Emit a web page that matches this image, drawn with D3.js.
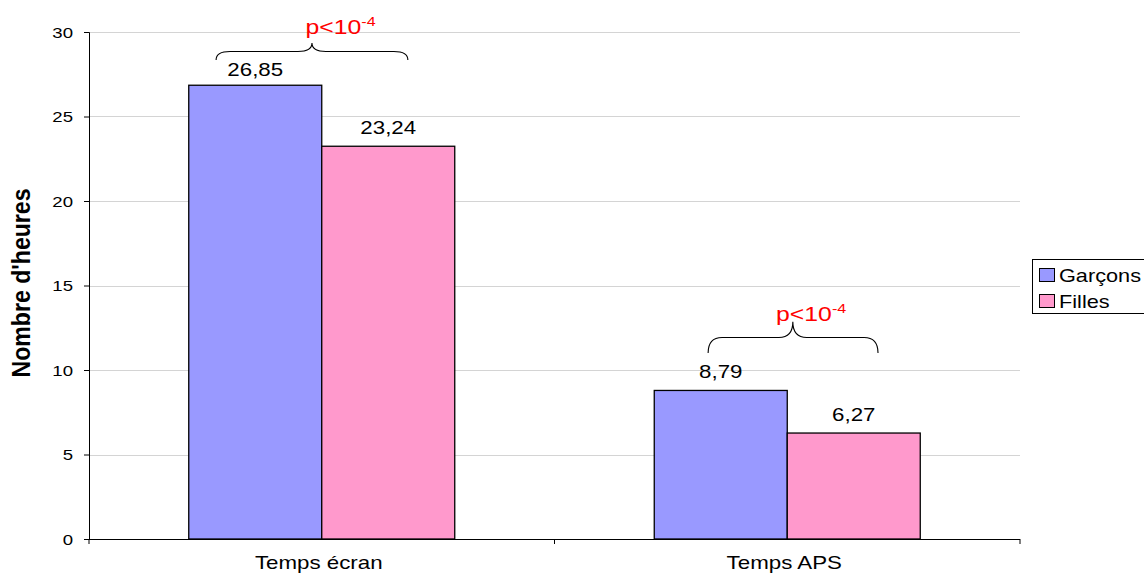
<!DOCTYPE html>
<html>
<head>
<meta charset="utf-8">
<script src="https://cdn.jsdelivr.net/npm/d3@7"></script>
<style>
  html, body { margin: 0; padding: 0; background: #fff; }
  svg { display: block; font-family: "Liberation Sans", Arial, sans-serif; }
</style>
</head>
<body>
<svg id="chart" width="1144" height="574"></svg>
<script>
// ---- data ----
const categories = ["Temps écran", "Temps APS"];
const seriesNames = ["Garçons", "Filles"];
const garcons = [26.85, 8.79];
const filles = [23.24, 6.27];
const valueLabels = [["26,85", "23,24"], ["8,79", "6,27"]];
const yTicks = [0, 5, 10, 15, 20, 25, 30];
const colors = ["#9999ff", "#ff99cc"];
// significance annotations (brace ends / tip in data units, horizontal spans as fraction of category band)
const annCategory = ["Temps écran", "Temps APS"];
const annLeft = [0.273, 0.330];
const annRight = [0.685, 0.695];
const annTip = [0.479, 0.512];
const annEndValue = [28.35, 11.0];
const annMidValue = [28.85, 11.92];
const annTipValue = [29.35, 12.85];
const annTextLeft = [0.465, 0.476];
const annTextValue = [29.86, 12.9];
const annMain = "p<10";
const annSup = "-4";

// ---- layout ----
const SX = 1.24; // horizontal glyph stretch of the original
const svg = d3.select("#chart");
const plot = { left: 89, right: 1020, top: 32, bottom: 539 };

const y = d3.scaleLinear().domain([0, 30]).range([plot.bottom, plot.top]);
const x0 = d3.scaleBand().domain(categories).range([plot.left, plot.right]).padding(0);
const groupW = 266;
const inset = (x0.bandwidth() - groupW) / 2;
const x1 = d3.scaleBand().domain(seriesNames).range([0, groupW]).padding(0);

function stretchedText(g, x, yy, txt, size, anchor, fill, weight) {
  return g.append("text")
    .attr("transform", `translate(${x},${yy}) scale(${SX},1)`)
    .attr("text-anchor", anchor)
    .attr("font-size", size)
    .attr("font-weight", weight || "normal")
    .attr("fill", fill || "#000")
    .text(txt);
}

// gridlines
svg.append("g").selectAll("line").data(yTicks.filter(d => d > 0)).join("line")
  .attr("x1", plot.left).attr("x2", plot.right)
  .attr("y1", d => Math.round(y(d)) + 0.5).attr("y2", d => Math.round(y(d)) + 0.5)
  .attr("stroke", "#d4d4d4").attr("stroke-width", 1);

// bars
const data = categories.map((c, i) => ({ cat: c, vals: [garcons[i], filles[i]], labels: valueLabels[i] }));
const groups = svg.append("g").selectAll("g").data(data).join("g")
  .attr("transform", d => `translate(${x0(d.cat) + inset},0)`);
groups.selectAll("rect").data(d => d.vals.map((v, j) => ({ v, s: seriesNames[j], j }))).join("rect")
  .attr("x", d => x1(d.s)).attr("width", x1.bandwidth())
  .attr("y", d => y(d.v)).attr("height", d => y(0) - y(d.v))
  .attr("fill", d => colors[d.j]).attr("stroke", "#000").attr("stroke-width", 1.3);
groups.each(function (d, i) {
  const g = d3.select(this);
  d.vals.forEach((v, j) => {
    const off = (i === 0 && j === 0) ? 9.5 : 12.5;
    stretchedText(g, x1(seriesNames[j]) + x1.bandwidth() / 2, y(v) - off, d.labels[j], 18, "middle");
  });
});

// y axis
const yAxis = svg.append("g").attr("transform", `translate(${plot.left},0)`)
  .call(d3.axisLeft(y).tickValues(yTicks).tickSize(5).tickPadding(11).tickFormat(d3.format("d")));
yAxis.select(".domain").attr("stroke", "#000");
yAxis.selectAll(".tick line").attr("stroke", "#000");
yAxis.selectAll(".tick text").remove();
yTicks.forEach(t => stretchedText(svg, plot.left - 16, y(t) + 5.5, String(t), 15, "end"));

// x axis
svg.append("line").attr("x1", plot.left).attr("x2", plot.right)
  .attr("y1", plot.bottom + 0.5).attr("y2", plot.bottom + 0.5).attr("stroke", "#000");
const xBounds = [plot.left, ...categories.map(c => x0(c) + x0.bandwidth())];
svg.append("g").selectAll("line").data(xBounds).join("line")
  .attr("x1", d => d).attr("x2", d => d)
  .attr("y1", plot.bottom).attr("y2", plot.bottom + 5).attr("stroke", "#000");
categories.forEach(c => stretchedText(svg, x0(c) + x0.bandwidth() / 2 - 3, 569, c, 18, "middle"));

// y title
svg.append("text")
  .attr("transform", `translate(30,283) rotate(-90) scale(1,${SX})`)
  .attr("text-anchor", "middle")
  .attr("font-size", 21).attr("font-weight", "bold")
  .attr("textLength", 189).attr("lengthAdjust", "spacingAndGlyphs")
  .text("Nombre d'heures");

// significance braces
annCategory.forEach((c, i) => {
  const bx = x0(c), bw = x0.bandwidth();
  const xl = bx + annLeft[i] * bw, xr = bx + annRight[i] * bw, xt = bx + annTip[i] * bw;
  const ye = y(annEndValue[i]), ym = y(annMidValue[i]), yt = y(annTipValue[i]);
  const r = Math.min(14, (xt - xl) / 3);
  const p = d3.path();
  p.moveTo(xl, ye);
  p.quadraticCurveTo(xl, ym, xl + r, ym);
  p.lineTo(xt - r, ym);
  p.quadraticCurveTo(xt, ym, xt, yt);
  p.quadraticCurveTo(xt, ym, xt + r, ym);
  p.lineTo(xr - r, ym);
  p.quadraticCurveTo(xr, ym, xr, ye);
  svg.append("path").attr("d", p.toString()).attr("fill", "none")
    .attr("stroke", "#000").attr("stroke-width", 1.1);
  const t = svg.append("text")
    .attr("transform", `translate(${bx + annTextLeft[i] * bw},${y(annTextValue[i])}) scale(${SX},1)`)
    .attr("font-size", 20).attr("fill", "#ff0000");
  t.append("tspan").text(annMain);
  t.append("tspan").attr("font-size", 13).attr("dy", -8).text(annSup);
});

// legend
const lg = svg.append("g");
lg.append("rect").attr("x", 1032.5).attr("y", 259.5).attr("width", 120).attr("height", 54)
  .attr("fill", "#fff").attr("stroke", "#000").attr("stroke-width", 1);
seriesNames.forEach((s, i) => {
  const yy = 268 + i * 26;
  lg.append("rect").attr("x", 1039.5).attr("y", yy + 0.5).attr("width", 15).attr("height", 13)
    .attr("fill", colors[i]).attr("stroke", "#000").attr("stroke-width", 1);
  stretchedText(lg, 1059, yy + 14, s, 17.5, "start");
});
</script>
</body>
</html>
